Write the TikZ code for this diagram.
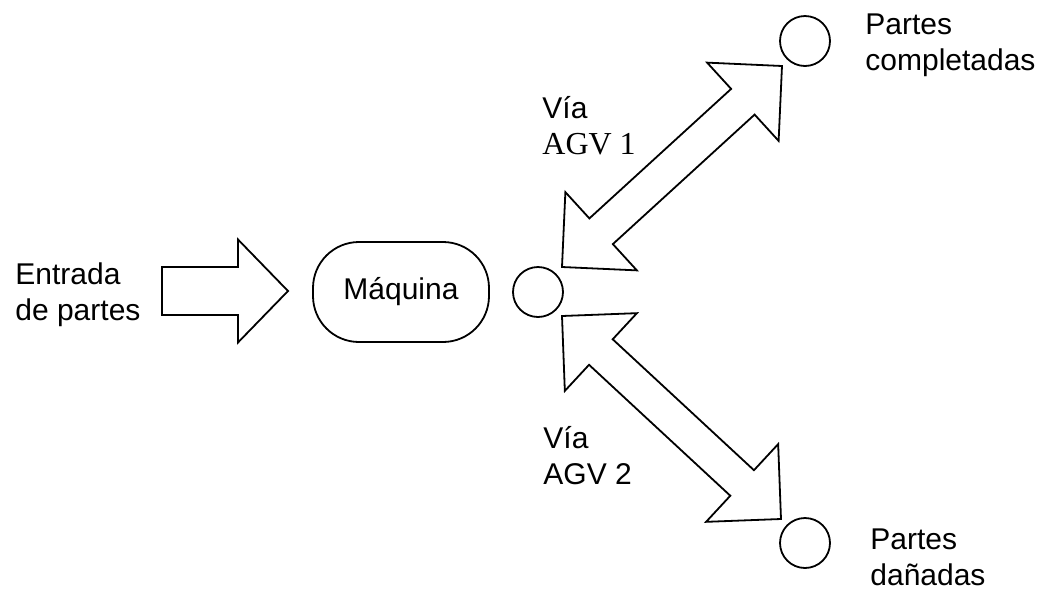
\documentclass[tikz,border=0pt]{standalone}
\usepackage{fontspec}
\setmainfont{Liberation Sans}
\newfontfamily\tiposerif{Liberation Serif}
\usepackage{tikz}
\usetikzlibrary{calc}

\tikzset{
  bloque/.style={draw, line width=0.9pt, line join=miter, fill=white},
  circulo/.style={circle, draw, line width=0.9pt, minimum size=25pt, inner sep=0pt},
  caja/.style={draw, line width=0.9pt, rounded corners=23pt, minimum width=88pt, minimum height=50pt},
  texto/.style={align=left, inner sep=0pt, anchor=north west}
}

% flecha de bloque con una punta: #1 inicio del cuerpo, #2 punta
\newcommand{\flechasimple}[2]{%
  \coordinate (h1) at ($(#2)!25pt!(#1)$);
  \draw[bloque] ($(#1)!12pt!90:(#2)$) -- ($(h1)!12pt!-90:(#1)$)
    -- ($(h1)!25.75pt!-90:(#1)$) -- (#2) -- ($(h1)!25.75pt!90:(#1)$)
    -- ($(h1)!12pt!90:(#1)$) -- ($(#1)!12pt!-90:(#2)$) -- cycle;
}
% flecha de bloque con dos puntas
\newcommand{\flechadoble}[2]{%
  \coordinate (h1) at ($(#1)!26.5pt!(#2)$);
  \coordinate (h2) at ($(#2)!26.5pt!(#1)$);
  \draw[bloque] (#1) -- ($(h1)!26.5pt!90:(#2)$) -- ($(h1)!8.7pt!90:(#2)$)
    -- ($(h2)!8.7pt!-90:(#1)$) -- ($(h2)!26.5pt!-90:(#1)$) -- (#2)
    -- ($(h2)!26.5pt!90:(#1)$) -- ($(h2)!8.7pt!90:(#1)$)
    -- ($(h1)!8.7pt!-90:(#2)$) -- ($(h1)!26.5pt!-90:(#2)$) -- cycle;
}

\begin{document}
\begin{tikzpicture}[x=0.5pt, y=-0.5pt, font=\fontsize{15}{18}\selectfont]
\useasboundingbox (0,0) rectangle (1062,590);

\node[texto] (entrada) at (15,262) {Entrada\\de partes};
\node[caja] (maq) at (401,292) {Máquina};
\node[circulo] (nodo) at (538,292) {};
\node[circulo] (comp) at (805,41) {};
\node[circulo] (dan) at (805,543) {};
\node[texto] (tcomp) at (865,13) {Partes\\completadas};
\node[texto] (tdan) at (870,528) {Partes\\dañadas};
\node[texto] (via1) at (542,96) {Vía\\{\tiposerif\fontsize{16}{18}\selectfont AGV 1}};
\node[texto] (via2) at (543,426) {Vía\\AGV 2};

% extremos de las flechas
\coordinate (e0) at (162,291);
\coordinate (e1) at (288,291);
\coordinate (a1) at (562,267);
\coordinate (b1) at (782,66);
\coordinate (a2) at (562,316);
\coordinate (b2) at (781,519);

\flechasimple{e0}{e1}
\flechadoble{a1}{b1}
\flechadoble{a2}{b2}
\end{tikzpicture}
\end{document}
